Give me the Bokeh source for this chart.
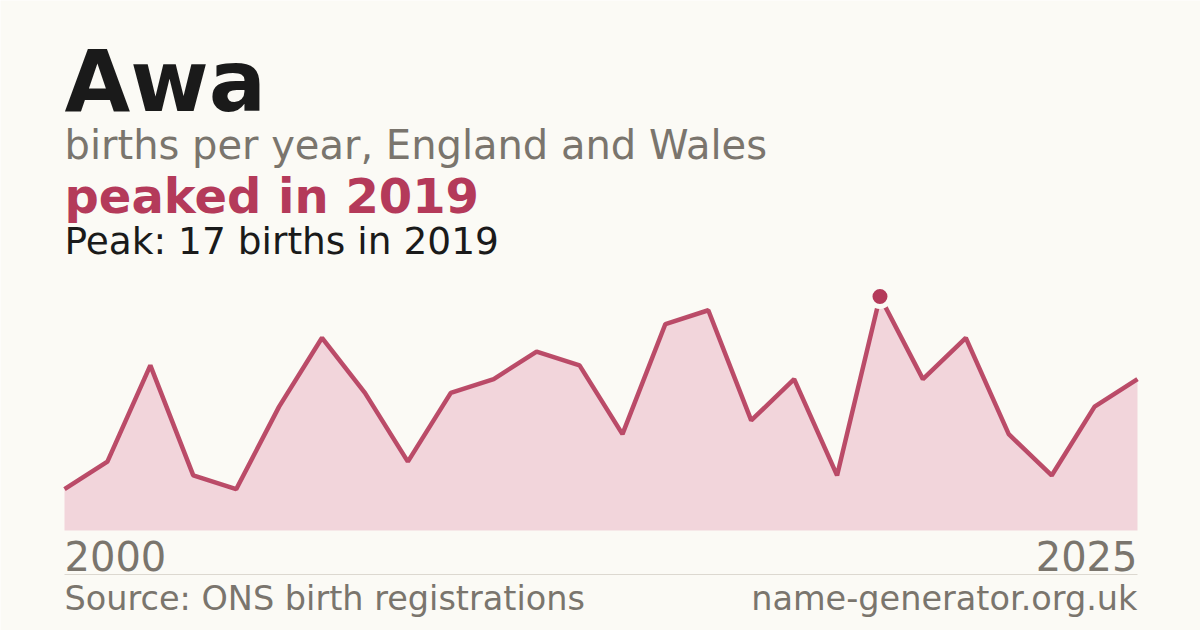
from bokeh.plotting import figure
from bokeh.models import Range1d, Label
from bokeh.embed import file_html
from bokeh.resources import INLINE

# ---- data ----
years = list(range(2000, 2026))
births = [3, 5, 12, 4, 3, 9, 14, 10, 5, 10, 11, 13, 12, 7, 15, 16, 8, 11, 4, 17, 11, 14, 7, 4, 9, 11]
name = "Awa"
subtitle = "births per year, England and Wales"
source = "Source: ONS birth registrations"
site = "name-generator.org.uk"

peak_val = max(births)
peak_year = years[births.index(peak_val)]

# ---- layout (px) ----
W, H = 1200, 630
BG = "#fbfaf5"
ACCENT = "#b43a5a"
FILL = "#f2d5db"
GREY = "#7a756d"
DARK = "#1a1a1a"
FONT = "DejaVu Sans"

X0, X1 = 64, 1137      # px for first/last year
Y0, YP = 530, 296      # px for 0 and peak

pxpy = (X1 - X0) / (years[-1] - years[0])
pxpu = (Y0 - YP) / peak_val
xs = years[0] - X0 / pxpy
ys = -(H - Y0) / pxpu

p = figure(width=W, height=H, output_backend="svg", toolbar_location=None,
           x_range=Range1d(xs, xs + W / pxpy), y_range=Range1d(ys, ys + H / pxpu),
           min_border=0)
p.axis.visible = False
p.grid.visible = False
p.outline_line_color = None
p.background_fill_color = BG
p.border_fill_color = BG


def sy(y):
    return H - y


def dy(y):
    return ys + sy(y) / pxpu


p.varea(x=years, y1=[0] * len(years), y2=births, fill_color=FILL)
p.line(years, births, line_color=ACCENT, line_width=4.5, line_alpha=0.9)
p.scatter([peak_year], [peak_val], size=20, fill_color=ACCENT, line_color=BG, line_width=5)

# separator
p.segment(x0=[years[0]], x1=[years[-1]], y0=[dy(574)], y1=[dy(574)],
          line_color="#dcd8d0", line_width=1)


def lab(text, x, y, size, color, bold=False, align="left", xu="screen"):
    p.add_layout(Label(x=x, y=sy(y), x_units=xu, y_units="screen", text=text,
                       text_font=FONT, text_font_size=f"{size}px",
                       text_font_style="bold" if bold else "normal",
                       text_color=color, text_align=align, text_baseline="alphabetic"))


lab(name, X0, 81, 85, DARK, bold=True)
lab(subtitle, X0, 144, 40, GREY)
lab(f"peaked in {peak_year}", X0, 195, 48, ACCENT, bold=True)
lab(f"Peak: {peak_val} births in {peak_year}", X0, 240, 37.5, DARK)
lab(str(years[0]), years[0], 555, 40, GREY, xu="data")
lab(str(years[-1]), years[-1], 555, 40, GREY, align="right", xu="data")
lab(source, X0, 598, 33.5, GREY)
lab(site, X1, 598, 33.5, GREY, align="right")

open("out.html", "w").write(file_html(p, INLINE))
